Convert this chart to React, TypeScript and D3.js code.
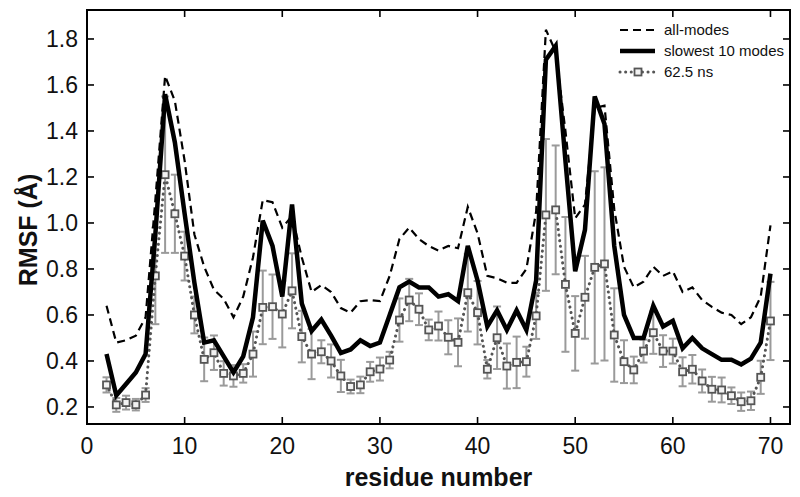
import React from 'react';
import * as d3 from 'd3';

// residues 2..70
const residues: number[] = d3.range(2, 71);

const allModes: number[] = [
  0.64, 0.48, 0.49, 0.51, 0.59, 1.10, 1.64, 1.53, 1.27, 0.95,
  0.81, 0.71, 0.67, 0.59, 0.68, 0.85, 1.10, 1.09, 0.98, 1.03,
  0.85, 0.70, 0.73, 0.70, 0.63, 0.61, 0.66, 0.665, 0.66, 0.77,
  0.93, 0.98, 0.93, 0.90, 0.88, 0.90, 0.89, 1.07, 0.955, 0.77,
  0.76, 0.74, 0.74, 0.80, 1.05, 1.84, 1.745, 1.40, 1.02, 1.08,
  1.50, 1.51, 1.06, 0.81, 0.72, 0.745, 0.81, 0.77, 0.79, 0.70,
  0.72, 0.665, 0.635, 0.61, 0.60, 0.56, 0.59, 0.68, 0.99,
];

const slowest10: number[] = [
  0.43, 0.25, 0.30, 0.35, 0.43, 0.95, 1.56, 1.35, 1.04, 0.74,
  0.48, 0.49, 0.42, 0.35, 0.42, 0.59, 1.01, 0.90, 0.68, 1.08,
  0.65, 0.53, 0.58, 0.51, 0.435, 0.45, 0.49, 0.465, 0.48, 0.60,
  0.72, 0.745, 0.72, 0.72, 0.68, 0.69, 0.66, 0.90, 0.75, 0.55,
  0.62, 0.535, 0.62, 0.535, 0.75, 1.71, 1.77, 1.27, 0.79, 0.97,
  1.55, 1.43, 0.90, 0.60, 0.50, 0.50, 0.64, 0.55, 0.575, 0.455,
  0.50, 0.455, 0.43, 0.405, 0.405, 0.385, 0.41, 0.48, 0.78,
];

const md625: number[] = [
  0.296, 0.209, 0.219, 0.21, 0.252, 0.77, 1.21, 1.04, 0.856, 0.60,
  0.407, 0.436, 0.346, 0.335, 0.346, 0.43, 0.633, 0.636, 0.604, 0.705,
  0.506, 0.43, 0.44, 0.40, 0.335, 0.289, 0.296, 0.353, 0.365, 0.404,
  0.578, 0.665, 0.625, 0.535, 0.552, 0.503, 0.481, 0.697, 0.61, 0.364,
  0.501, 0.378, 0.394, 0.397, 0.596, 1.035, 1.057, 0.733, 0.52, 0.677,
  0.807, 0.822, 0.513, 0.397, 0.361, 0.443, 0.523, 0.443, 0.443, 0.353,
  0.364, 0.313, 0.277, 0.274, 0.249, 0.223, 0.227, 0.329, 0.574,
];

const md625Err: number[] = [
  0.033, 0.03, 0.03, 0.025, 0.03, 0.21, 0.34, 0.17, 0.106, 0.08,
  0.095, 0.075, 0.053, 0.047, 0.04, 0.098, 0.16, 0.14, 0.145, 0.163,
  0.112, 0.109, 0.05, 0.072, 0.07, 0.03, 0.036, 0.043, 0.05, 0.036,
  0.094, 0.092, 0.069, 0.045, 0.063, 0.074, 0.104, 0.169, 0.138, 0.04,
  0.136, 0.098, 0.112, 0.065, 0.10, 0.33, 0.28, 0.293, 0.162, 0.18,
  0.418, 0.42, 0.203, 0.093, 0.058, 0.05, 0.092, 0.069, 0.054, 0.063,
  0.062, 0.05, 0.054, 0.054, 0.036, 0.04, 0.04, 0.072, 0.17,
];

const xTicks = [10, 20, 30, 40, 50, 60, 70];
const xLabels = [0, 10, 20, 30, 40, 50, 60, 70];
const yTicks = [0.2, 0.4, 0.6, 0.8, 1.0, 1.2, 1.4, 1.6, 1.8];

const W = 800;
const H = 497;
const M = { left: 87, right: 10, top: 10, bottom: 73 };
const FONT = '"Liberation Sans", Arial, Helvetica, sans-serif';

export default function App() {
  const x = d3.scaleLinear().domain([0, 72]).range([M.left, W - M.right]);
  const y = d3.scaleLinear().domain([0.126, 1.926]).range([H - M.bottom, M.top]);
  const x0 = M.left, x1 = W - M.right, y0 = H - M.bottom, y1 = M.top;
  const tick = 7;

  const line = (vals: number[]) =>
    d3.line<number>().x((_, i) => x(residues[i])).y(d => y(d))(vals) || '';

  const grayDot = '#555';
  const errColor = '#9a9a9a';

  return (
    <svg width={W} height={H} style={{ position: 'absolute', left: 0, top: 0, background: '#fff' }}
      fontFamily={FONT}>
      <rect x={0} y={0} width={W} height={H} fill="#fff" />

      {/* error bars */}
      <g stroke={errColor} strokeWidth={2}>
        {md625.map((v, i) => {
          const cx = x(residues[i]);
          const top = y(v + md625Err[i]);
          const bot = y(v - md625Err[i]);
          return (
            <g key={i}>
              <line x1={cx} x2={cx} y1={top} y2={bot} />
              <line x1={cx - 4} x2={cx + 4} y1={top} y2={top} />
              <line x1={cx - 4} x2={cx + 4} y1={bot} y2={bot} />
            </g>
          );
        })}
      </g>

      {/* 62.5 ns dotted */}
      <path d={line(md625)} fill="none" stroke={grayDot} strokeWidth={3}
        strokeDasharray="0.1,5.5" strokeLinecap="round" />
      {md625.map((v, i) => (
        <rect key={i} x={x(residues[i]) - 3.5} y={y(v) - 3.5} width={7} height={7}
          fill="#f2f2f2" stroke={grayDot} strokeWidth={1.8} />
      ))}

      {/* all modes dashed */}
      <path d={line(allModes)} fill="none" stroke="#000" strokeWidth={2.2} strokeDasharray="8,5" />

      {/* slowest 10 modes */}
      <path d={line(slowest10)} fill="none" stroke="#000" strokeWidth={4.5} strokeLinejoin="miter" />

      {/* frame */}
      <rect x={x0} y={y1} width={x1 - x0} height={y0 - y1} fill="none" stroke="#000" strokeWidth={2} />

      {/* ticks */}
      <g stroke="#000" strokeWidth={1.6}>
        {xTicks.map(t => (
          <g key={t}>
            <line x1={x(t)} x2={x(t)} y1={y0} y2={y0 - tick} />
            <line x1={x(t)} x2={x(t)} y1={y1} y2={y1 + tick} />
          </g>
        ))}
        {yTicks.map(t => (
          <g key={t}>
            <line x1={x0} x2={x0 + tick} y1={y(t)} y2={y(t)} />
            <line x1={x1} x2={x1 - tick} y1={y(t)} y2={y(t)} />
          </g>
        ))}
      </g>

      {/* tick labels */}
      <g fontSize={23} fill="#111">
        {xLabels.map(t => (
          <text key={t} x={x(t)} y={y0 + 30} textAnchor="middle">{t}</text>
        ))}
        {yTicks.map(t => (
          <text key={t} x={x0 - 9} y={y(t) + 8} textAnchor="end">{t.toFixed(1)}</text>
        ))}
      </g>

      {/* axis titles */}
      <text x={(x0 + x1) / 2} y={486} textAnchor="middle" fontSize={25} fontWeight="bold" fill="#111">
        residue number
      </text>
      <text transform={`translate(37,${230}) rotate(-90)`} textAnchor="middle" fontSize={25}
        fontWeight="bold" fill="#111">
        RMSF (Å)
      </text>

      {/* legend */}
      <g fontSize={15} fill="#111">
        <line x1={620} x2={655} y1={30} y2={30} stroke="#000" strokeWidth={2.2} strokeDasharray="8,5" />
        <text x={664} y={35}>all-modes</text>
        <line x1={620} x2={655} y1={51} y2={51} stroke="#000" strokeWidth={4.5} />
        <text x={664} y={56}>slowest 10 modes</text>
        <line x1={620} x2={656} y1={72} y2={72} stroke={grayDot} strokeWidth={3}
          strokeDasharray="0.1,5.5" strokeLinecap="round" />
        <rect x={634.5} y={68.5} width={7} height={7} fill="#f2f2f2" stroke={grayDot} strokeWidth={1.8} />
        <text x={664} y={77}>62.5 ns</text>
      </g>
    </svg>
  );
}
